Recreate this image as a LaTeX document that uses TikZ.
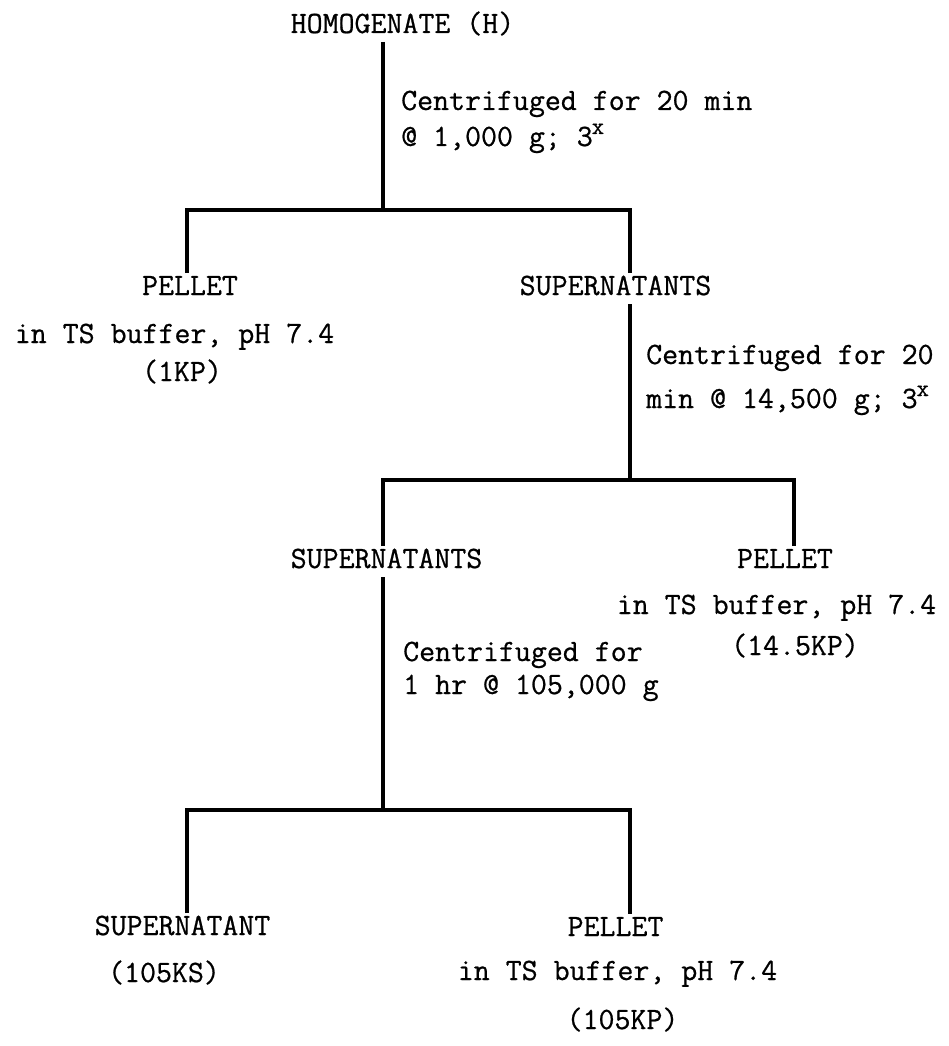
\documentclass[tikz,border=0pt]{standalone}
\usepackage{fontspec}
\newfontfamily\tw[FakeBold=0.7]{Latin Modern Mono}
\newcommand\supx{\kern-1pt\raisebox{12pt}{\fontsize{24}{24}\selectfont x}}
\begin{document}
\begin{tikzpicture}[x=1pt,y=-1pt,
  lbl/.style={font=\tw\fontsize{31}{31}\selectfont, inner sep=0pt, anchor=base, text height=19pt, text depth=6pt},
  lft/.style={lbl, anchor=base west},
  item/.style={lbl, outer sep=3pt},
  wire/.style={line width=3.6pt, line join=miter}]
\useasboundingbox (0,0) rectangle (948,1046);
% nodes
\node[item] (H)  at (402.5,33) {HOMOGENATE (H)};
\node[lft]  (c1a) at (401,110) {Centrifuged for 20 min};
\node[lft]  (c1b) at (401,146) {@ 1,000 g; 3\supx};
\node[item] (P1) at (190,295) {PELLET};
\node[lbl]  (B1) at (174.5,343) {in TS buffer, pH 7.4};
\node[lbl]  (K1) at (182,381) {(1KP)};
\node[item] (S1) at (615.5,295) {SUPERNATANTS};
\node[lft]  (c2a) at (646,364) {Centrifuged for 20};
\node[lft]  (c2b) at (646,408) {min @ 14,500 g; 3\supx};
\node[item] (S2) at (386.5,568) {SUPERNATANTS};
\node[item] (P2) at (785,568) {PELLET};
\node[lbl]  (B2) at (776.5,614) {in TS buffer, pH 7.4};
\node[lbl]  (K2) at (795,655) {(14.5KP)};
\node[lft]  (c3a) at (403,661) {Centrifuged for};
\node[lft]  (c3b) at (403,694) {1 hr @ 105,000 g};
\node[item] (S3) at (182.5,935) {SUPERNATANT};
\node[lbl]  (K3) at (164,982) {(105KS)};
\node[item] (P3) at (615.5,936) {PELLET};
\node[lbl]  (B3) at (617.5,980) {in TS buffer, pH 7.4};
\node[lbl]  (K4) at (622.5,1029) {(105KP)};
% junction coordinates
\coordinate (a1) at (383,210);
\coordinate (l1) at (187,210);
\coordinate (r1) at (630,210);
\coordinate (l2) at (383,480);
\coordinate (r2) at (794,480);
\coordinate (l3) at (187,810);
\coordinate (r3) at (630,810);
% connectors
\draw[wire] (H.south -| a1) -- (a1);
\draw[wire] (P1.north -| l1) -- (l1) -- (r1) -- (S1.north -| r1);
\draw[wire] (S1.south -| r1) -- (r1 |- l2);
\draw[wire] (S2.north -| l2) -- (l2) -- (r2) -- (P2.north -| r2);
\draw[wire] (S2.south -| l2) -- (l2 |- l3);
\draw[wire] (S3.north -| l3) -- (l3) -- (r3) -- (P3.north -| r3);
\end{tikzpicture}
\end{document}
